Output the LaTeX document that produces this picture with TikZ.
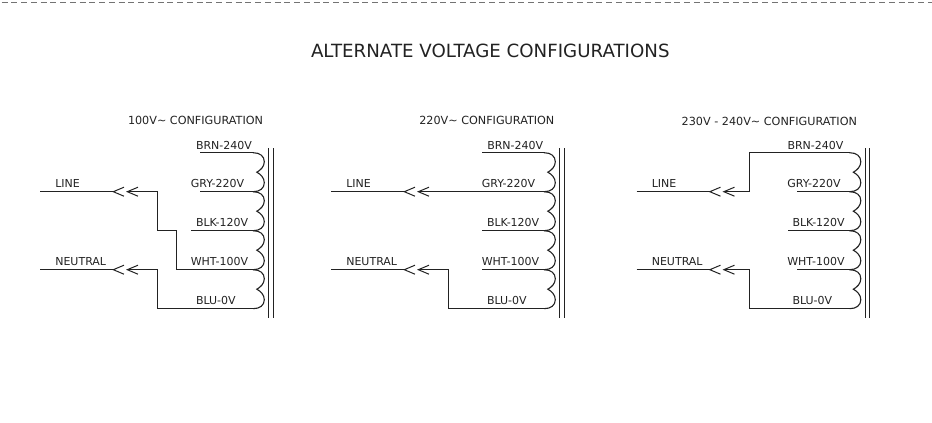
\documentclass[tikz,border=0pt]{standalone}
\usepackage{fontspec}
\setmainfont{DejaVu Sans}
\definecolor{ink}{HTML}{222222}
\tikzset{
  x=1pt,y=-1pt,
  wire/.style={draw=ink,line width=1.1pt,line join=miter},
  chev/.style={draw=ink,line width=1pt},
  lab/.style={anchor=base west,inner sep=0pt,outer sep=0pt,text=ink,font=\fontsize{11}{13}\selectfont},
  cfg/.style={lab,font=\fontsize{11.2}{13}\selectfont},
  ttl/.style={lab,font=\fontsize{18.2}{20}\selectfont}
}
\newcommand{\xfpanel}[6]{%
\begin{scope}[xshift=#2pt]
  \node[cfg] (#1cfg) at (#3,#4) {#5};
  \node[lab] (#1brnl) at (#6,149.3) {BRN-240V};
  \node[lab] (#1gryl) at (190.8,187.3) {GRY-220V};
  \node[lab] (#1blkl) at (196,226.2) {BLK-120V};
  \node[lab] (#1whtl) at (190.8,265) {WHT-100V};
  \node[lab] (#1blul) at (196,304) {BLU-0V};
  \node[lab] (#1linel) at (55.3,187.3) {LINE};
  \node[lab] (#1neul) at (55.3,265) {NEUTRAL};
  \coordinate (#1brn) at (253,152.7);
  \coordinate (#1gry) at (253,191.7);
  \coordinate (#1blk) at (253,230.7);
  \coordinate (#1wht) at (253,269.7);
  \coordinate (#1blu) at (253,308.7);
  \coordinate (#1ls) at (40,191.7);
  \coordinate (#1lt) at (113.3,191.7);
  \coordinate (#1lr) at (127.3,191.7);
  \coordinate (#1ns) at (40,269.7);
  \coordinate (#1nt) at (113.3,269.7);
  \coordinate (#1nr) at (127.3,269.7);
  \coordinate (#1bara) at (268.7,148);
  \coordinate (#1barb) at (268.7,318);
  \coordinate (#1barc) at (273.3,148);
  \coordinate (#1bard) at (273.3,318);
  \coordinate (#1ntop) at (157.3,308.7);
  \draw[wire] (#1bara) -- (#1barb);
  \draw[wire] (#1barc) -- (#1bard);
  \draw[wire] (#1ls) -- (#1lt);
  \draw[wire] (#1ns) -- (#1nt);
  \foreach \t in {lt,lr,nt,nr}{
    \draw[chev] ([shift={(10.7,-4.5)}]#1\t) -- (#1\t) -- ([shift={(10.7,4.5)}]#1\t);
  }
  \foreach \yy in {152.7,191.7,230.7,269.7}{
    \draw[wire] (253,\yy) .. controls (260,\yy) and (264.3,\yy+3.5) .. (264.3,\yy+9)
       .. controls (264.3,\yy+14) and (260.5,\yy+17.5) .. (256.8,\yy+19.5)
       .. controls (260.5,\yy+21.5) and (264.3,\yy+25) .. (264.3,\yy+30)
       .. controls (264.3,\yy+35.5) and (260,\yy+39) .. (253,\yy+39);
  }
\end{scope}}
\begin{document}
\begin{tikzpicture}
\useasboundingbox (0,0) rectangle (932,423);
\coordinate (dl) at (1.5,2.8);
\coordinate (dr) at (932,2.8);
\draw[draw=black!55,line width=1.2pt,dash pattern=on 6pt off 3.75pt] (dl) -- (dr);
\node[ttl] (title) at (311,57.5) {ALTERNATE VOLTAGE CONFIGURATIONS};
\xfpanel{a}{0}{128}{124}{100V\textasciitilde{} CONFIGURATION}{196}
\xfpanel{b}{291}{128.3}{124}{220V\textasciitilde{} CONFIGURATION}{196.3}
\xfpanel{c}{596.5}{85.2}{125}{230V - 240V\textasciitilde{} CONFIGURATION}{191}
% panel a
\draw[wire] (abrn) -- ++(-53,0);
\draw[wire] (agry) -- ++(-53,0);
\draw[wire] (ablk) -- ++(-62.3,0);
\draw[wire] (alr) -| (157.3,230.7) -| (176.7,269.7) -- (awht);
\draw[wire] (anr) -- (antop |- anr) -- (antop) -- (ablu);
% panel b
\draw[wire] (bbrn) -- ++(-62,0);
\draw[wire] (blr) -- (bgry);
\draw[wire] (bblk) -- ++(-62,0);
\draw[wire] (bwht) -- ++(-62,0);
\draw[wire] (bnr) -- (bntop |- bnr) -- (bntop) -- (bblu);
% panel c
\draw[wire] (clr) -| ([xshift=-100pt]cbrn) -- (cbrn);
\draw[wire] (cgry) -- ++(-53,0);
\draw[wire] (cblk) -- ++(-62,0);
\draw[wire] (cwht) -- ++(-53,0);
\draw[wire] (cnr) -| ([xshift=-100pt]cblu) -- (cblu);
\end{tikzpicture}
\end{document}
